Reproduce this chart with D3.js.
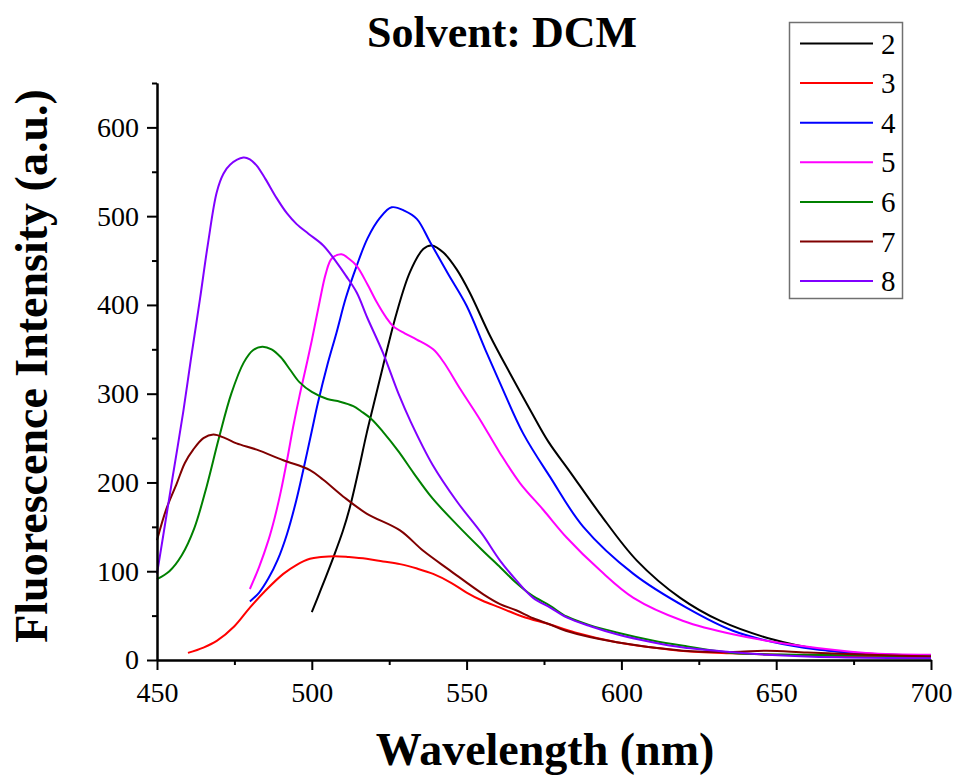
<!DOCTYPE html>
<html>
<head>
<meta charset="utf-8">
<script src="https://cdn.jsdelivr.net/npm/d3@7"></script>
<style>
  body { margin: 0; background: #fff; }
  svg { display: block; }
</style>
</head>
<body>
<svg id="chart" width="958" height="775" font-family="Liberation Serif, Times New Roman, serif"></svg>
<script>
// ---------------- DATA ----------------
const seriesNames = ["2", "3", "4", "5", "6", "7", "8"];
const seriesColors = ["#000000", "#ff0000", "#0000ff", "#ff00ff", "#008000", "#800000", "#8000ff"];

const xTicksMajor = [450, 500, 550, 600, 650, 700];
const xTicksMinor = [475, 525, 575, 625, 675];
const yTicksMajor = [0, 100, 200, 300, 400, 500, 600];
const yTicksMinor = [50, 150, 250, 350, 450, 550, 650];

const s2 = [[500,54],[503,80],[507,116],[510,145],[512.3,172],[515,212],[517.7,255],[520,288],[523,331],[527.4,391],[531.7,437],[536,463],[538.7,467],[542.5,459],[546.8,440],[551,414],[557.6,365],[564,323],[570.5,282],[576.4,246],[583.4,212],[593,165],[605,112],[619,70],[632,44],[649,23],[664,12],[680,7],[700,5]];
const s3 = [[460,8],[465,14],[469.3,21.5],[475,38],[480,59],[485,78],[490.8,97],[495,107],[499.4,114],[503,116],[507.5,117],[512,116],[517.7,114],[523,111],[528.5,108],[534,103],[539.2,97],[545,87],[550,76],[555,67],[560.8,59],[568,49],[576.9,40],[585,31],[598.5,20],[610,14],[620,10],[635,7.5],[650,6],[670,4.5],[700,3]];
const s4 = [[480,66],[483,76],[486,92],[489,113],[492,142],[495,180],[497.5,218],[500,258],[502,290],[505,332],[508,369],[511,408],[514.5,444],[518,475],[522,498],[525.8,510],[530,506],[533.9,497],[538.2,471],[544,435],[550,399],[556,350],[560.8,312],[568.3,255],[577,206],[587.7,150],[603.9,97],[621,59],[636,33],[652,18],[668,10],[684,6],[700,4]];
const s5 = [[480,80],[483,105],[486,135],[488,160],[490,190],[492,225],[494,263],[496,297],[498,328],[500,360],[502.6,405],[504.5,435],[506.4,452],[509.6,457],[512,452],[514.5,444],[518,423],[521,403],[524,386],[526.3,376],[530,368],[533.9,361],[539.2,350],[542.5,336],[548,305],[554.3,271],[560.8,233],[567.3,199],[574.8,169],[582.3,138],[593.1,101],[603.9,70],[620,44],[636,29],[657.7,16],[679,8],[700,6]];
const s6 = [[450,91],[454,100],[458,118],[462,148],[466,195],[470,250],[474,300],[478,335],[481,349],[484,353],[487,350],[490,341],[493,327],[496,313],[500,302],[505,294],[509.1,291],[513.4,286],[516,280],[519.4,271],[523,257],[528,235],[533,210],[539,182],[547,152],[555,124],[561,104],[566,87],[571,73],[577,61],[582.3,49],[590,39],[598.5,31],[610,22],[620,16],[636,8],[657.7,6],[680,5],[700,4]];
const s7 = [[450,135],[453,170],[456.4,199],[459,222],[461.7,237],[465,250],[468.2,254],[472,250],[475.7,244],[482.2,237],[490.8,225],[499.4,214],[503.7,203],[510.2,184],[517.7,165],[528.5,146],[536,123],[544.6,101],[555.4,74],[560.8,63],[566,56],[571.5,47],[577,40],[582,33],[598.5,20],[620,10.5],[636,9],[647,10.5],[660,8.5],[680,6],[700,4]];
const s8 = [[450,97],[452,140],[455,205],[458.5,280],[461,340],[463.9,407],[466.5,470],[469.3,527],[471.5,548],[473.6,558],[477.9,566],[480,564],[482.2,557],[485,542],[488.7,520],[492,503],[495.1,491],[499,480],[503.7,467],[508,448],[511,433],[514.5,414],[518,385],[523,346],[528,300],[532,268],[539,220],[547,178],[555,142],[560.8,112],[566,90],[571.5,70],[577,59],[582.3,48],[590,38],[598.5,29],[610,20],[620,14],[635,9],[647,6],[670,3],[700,2]];
const seriesData = [s2, s3, s4, s5, s6, s7, s8];

// ---------------- CHART ----------------
const FONT = "Liberation Serif, Times New Roman, serif";
const svg = d3.select("#chart");
const x = d3.scaleLinear().domain([450, 700]).range([157, 931]);
const y = d3.scaleLinear().domain([0, 650]).range([660, 83]);

// lines
const line = d3.line().x(d => x(d[0])).y(d => y(d[1])).curve(d3.curveCatmullRom.alpha(0.5));
const g = svg.append("g");
seriesData.forEach((s, i) => {
  g.append("path").datum(s)
    .attr("fill", "none")
    .attr("stroke", seriesColors[i])
    .attr("stroke-width", 2)
    .attr("stroke-linejoin", "round")
    .attr("d", line);
});

// axes
function styleAxis(sel) {
  sel.attr("font-family", FONT).attr("font-size", 28);
  sel.select(".domain").attr("stroke", "#000").attr("stroke-width", 2);
  sel.selectAll(".tick line").attr("stroke", "#000").attr("stroke-width", 2);
  sel.selectAll(".tick text").attr("fill", "#000");
}

const xMinor = svg.append("g").attr("transform", "translate(0,660)")
  .call(d3.axisBottom(x).tickValues(xTicksMinor).tickSize(5).tickSizeOuter(0).tickFormat(""));
styleAxis(xMinor);
const xAxis = svg.append("g").attr("transform", "translate(0,660)")
  .call(d3.axisBottom(x).tickValues(xTicksMajor).tickSize(10).tickSizeOuter(0).tickPadding(12).tickFormat(d3.format("d")));
styleAxis(xAxis);

const yMinor = svg.append("g").attr("transform", "translate(157,0)")
  .call(d3.axisLeft(y).tickValues(yTicksMinor).tickSize(5).tickSizeOuter(0).tickFormat(""));
styleAxis(yMinor);
const yAxis = svg.append("g").attr("transform", "translate(157,0)")
  .call(d3.axisLeft(y).tickValues(yTicksMajor).tickSize(10).tickSizeOuter(0).tickPadding(8).tickFormat(d3.format("d")));
styleAxis(yAxis);

// title & labels
svg.append("text").attr("x", 502).attr("y", 47).attr("text-anchor", "middle")
  .attr("font-size", 44).attr("font-weight", "bold").text("Solvent: DCM");
svg.append("text").attr("x", 545).attr("y", 765).attr("text-anchor", "middle")
  .attr("font-size", 46).attr("font-weight", "bold").text("Wavelength (nm)");
svg.append("text").attr("transform", "translate(47,366) rotate(-90)").attr("text-anchor", "middle")
  .attr("font-size", 46).attr("font-weight", "bold").text("Fluorescence Intensity (a.u.)");

// legend
const legend = svg.append("g");
legend.append("rect").attr("x", 789.5).attr("y", 22.5).attr("width", 113).attr("height", 276)
  .attr("fill", "#fff").attr("stroke", "#707070").attr("stroke-width", 1.5);
seriesNames.forEach((n, i) => {
  const ly = 43.5 + i * 39.6;
  legend.append("line").attr("x1", 800).attr("x2", 873).attr("y1", ly).attr("y2", ly)
    .attr("stroke", seriesColors[i]).attr("stroke-width", 2);
  legend.append("text").attr("x", 881).attr("y", ly + 10).attr("font-size", 29).text(n);
});
</script>
</body>
</html>
